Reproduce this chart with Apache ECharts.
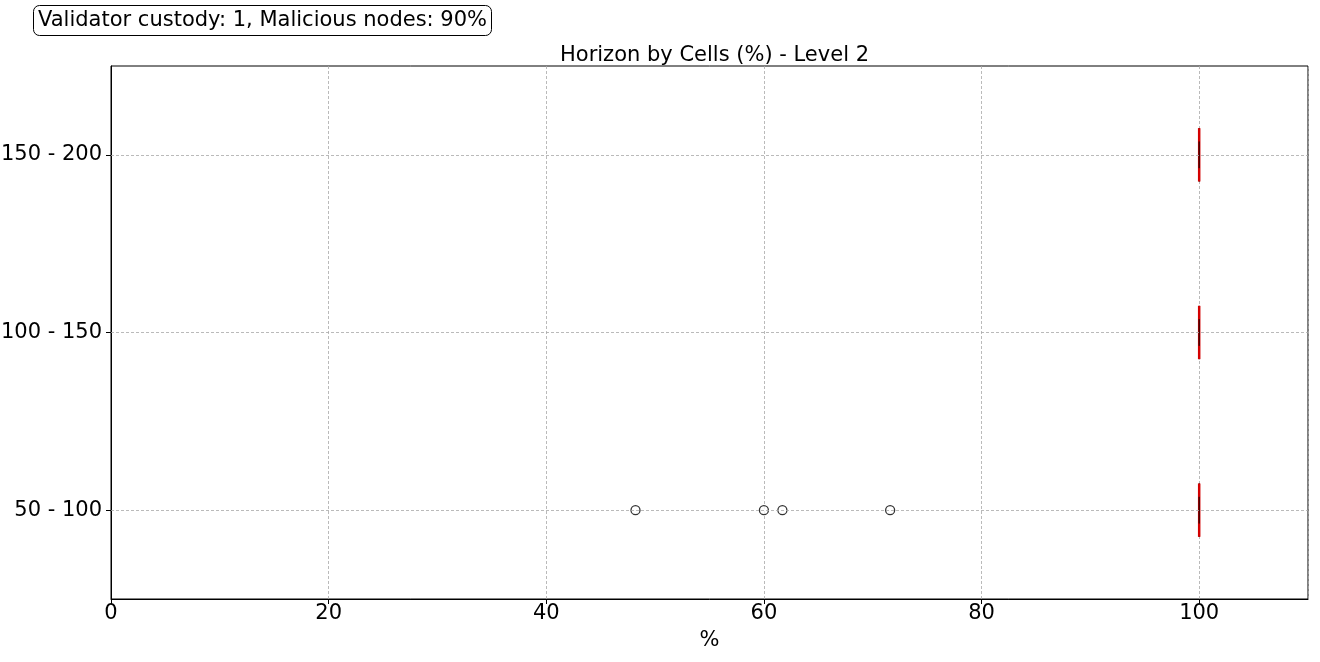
<!DOCTYPE html>
<html>
<head>
<meta charset="utf-8">
<script src="https://cdn.jsdelivr.net/npm/echarts@6/dist/echarts.min.js"></script>
<style>html,body{margin:0;padding:0;background:#fff}#c{width:1320px;height:662px}</style>
</head>
<body>
<div id="c"></div>
<script>
// Data
const categories = ['50 - 100', '100 - 150', '150 - 200'];
// [min, q1, median, q3, max] per category
const boxMin = [100, 100, 100];
const boxQ1 = [100, 100, 100];
const boxMedian = [100, 100, 100];
const boxQ3 = [100, 100, 100];
const boxMax = [100, 100, 100];
// outliers: [value, categoryIndex]
const outlierValues = [48.2, 60.0, 61.7, 71.6];
const outlierCategory = [0, 0, 0, 0];
const xTicks = [0, 20, 40, 60, 80, 100];

const FONT = 'DejaVu Sans';
const FS = 21;
const chart = echarts.init(document.getElementById('c'));

const boxData = categories.map((c, i) => [i, boxMin[i], boxQ1[i], boxMedian[i], boxQ3[i], boxMax[i]]);
const outlierData = outlierValues.map((v, i) => [v, outlierCategory[i]]);

function renderBox(params, api) {
  const ci = api.value(0);
  const mn = api.value(1), q1 = api.value(2), md = api.value(3), q3 = api.value(4), mx = api.value(5);
  const band = api.size([0, 1])[1];
  const hb = band * 0.15, hc = band * 0.075;
  const pMin = api.coord([mn, ci]), pQ1 = api.coord([q1, ci]), pMd = api.coord([md, ci]);
  const pQ3 = api.coord([q3, ci]), pMax = api.coord([mx, ci]);
  const y = pMd[1];
  const black = {stroke: '#000', lineWidth: 1, fill: null};
  return {
    type: 'group',
    children: [
      {type: 'rect', shape: {x: pQ1[0], y: y - hb, width: pQ3[0] - pQ1[0], height: 2 * hb}, style: black},
      {type: 'line', shape: {x1: pMin[0], y1: y, x2: pQ1[0], y2: y}, style: black},
      {type: 'line', shape: {x1: pQ3[0], y1: y, x2: pMax[0], y2: y}, style: black},
      {type: 'line', shape: {x1: pMd[0], y1: y - hb, x2: pMd[0], y2: y + hb}, style: {stroke: '#d40000', lineWidth: 2.5}},
      {type: 'line', shape: {x1: pMin[0], y1: y - hc, x2: pMin[0], y2: y + hc}, style: {stroke: '#000', lineWidth: 1, opacity: 0.6}},
      {type: 'line', shape: {x1: pMax[0], y1: y - hc, x2: pMax[0], y2: y + hc}, style: {stroke: '#000', lineWidth: 1, opacity: 0.6}}
    ]
  };
}

chart.setOption({
  animation: false,
  backgroundColor: '#fff',
  title: [
    {text: 'Horizon by Cells (%) - Level 2', left: 709.5, textAlign: 'center', top: 40,
     textStyle: {fontFamily: FONT, fontSize: FS, fontWeight: 'normal', color: '#000'}},
    {text: 'Validator custody: 1, Malicious nodes: 90%', left: 33, top: 5,
     padding: [5, 5, 5, 5], borderColor: '#000', borderWidth: 1, borderRadius: 6,
     textStyle: {fontFamily: FONT, fontSize: FS, fontWeight: 'normal', color: '#000'}}
  ],
  grid: {left: 111, right: 12, top: 66, bottom: 63, containLabel: false, outerBoundsMode: 'none',
    show: true, borderColor: '#000', borderWidth: 1, backgroundColor: 'transparent'},
  xAxis: {
    type: 'value', min: 0, max: 110, interval: 20,
    name: '%', nameLocation: 'middle', nameGap: 31,
    nameTextStyle: {fontFamily: FONT, fontSize: FS, color: '#000'},
    axisLine: {show: true, lineStyle: {color: '#000'}},
    axisTick: {show: true, length: 5, lineStyle: {color: '#000'}},
    axisLabel: {fontFamily: FONT, fontSize: FS, color: '#000', margin: 4, showMaxLabel: false,
      formatter: v => xTicks.includes(v) ? String(v) : ''},
    splitLine: {show: true, lineStyle: {color: '#a8a8a8', type: [3, 2], width: 0.8}}
  },
  yAxis: {
    type: 'category', data: categories, boundaryGap: true,
    axisLine: {show: true, lineStyle: {color: '#000'}},
    axisTick: {show: true, alignWithLabel: true, length: 5, lineStyle: {color: '#000'}},
    axisLabel: {fontFamily: FONT, fontSize: FS, color: '#000', margin: 9},
    splitLine: {show: false}
  },
  series: [
    {
      type: 'scatter', data: [], silent: true, z: 1,
      markLine: {
        silent: true, symbol: 'none', label: {show: false}, animation: false,
        lineStyle: {color: '#a8a8a8', type: [3, 2], width: 0.8},
        data: categories.map(c => ({yAxis: c}))
      }
    },
    {
      type: 'custom', renderItem: renderBox, data: boxData, z: 3,
      encode: {y: 0, x: [1, 2, 3, 4, 5]}
    },
    {
      type: 'scatter', data: outlierData, symbol: 'circle', symbolSize: 9, z: 4,
      itemStyle: {color: '#fff', borderColor: '#000', borderWidth: 1.3}
    }
  ]
});
</script>
</body>
</html>
